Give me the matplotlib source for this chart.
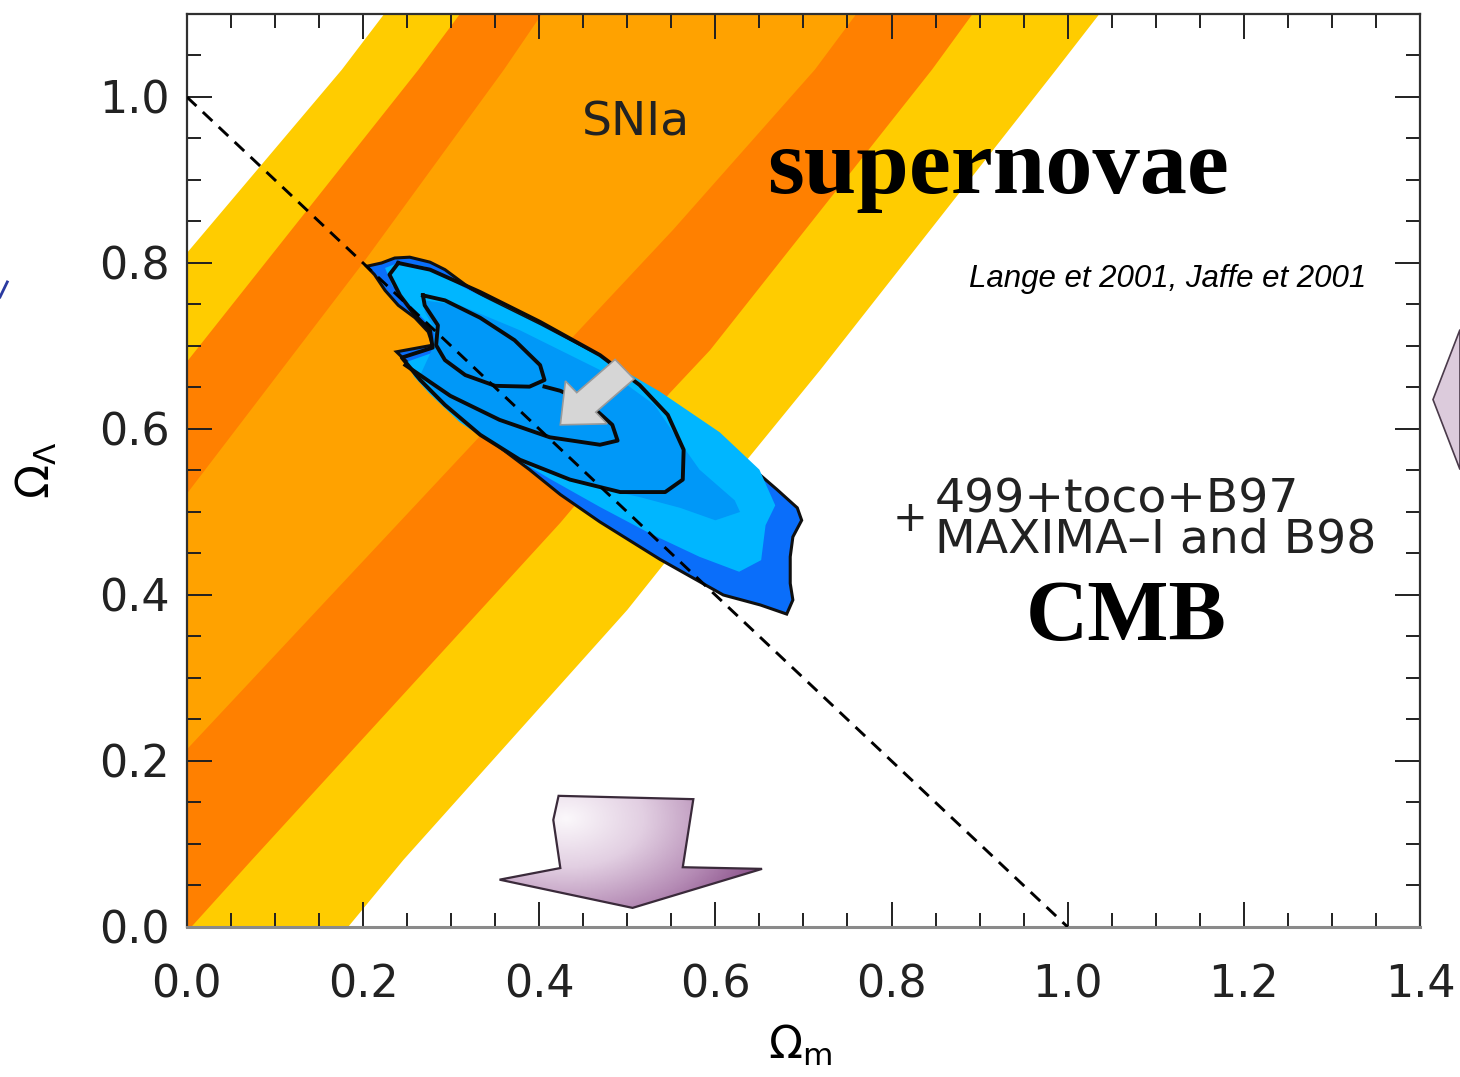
import numpy as np
import matplotlib
matplotlib.use('Agg')
import matplotlib.pyplot as plt
from matplotlib.patches import Polygon, FancyArrow
from matplotlib.lines import Line2D
from matplotlib.colors import LinearSegmentedColormap

# SNIa band edges (Omega_m, Omega_Lambda), run past the frame
b1_x = [-0.663, 0.0, 0.176, 0.224, 0.26]
b1_y = [-0.05, 0.812, 1.033, 1.1, 1.15]
b2_x = [-0.546, 0.0, 0.263, 0.31, 0.345]
b2_y = [-0.05, 0.681, 1.033, 1.1, 1.15]
b3_x = [-0.41, 0.0, 0.2, 0.36, 0.403, 0.44]
b3_y = [-0.05, 0.522, 0.8, 1.033, 1.1, 1.15]
b4_x = [-0.23, 0.0, 0.552, 0.713, 0.76, 0.8]
b4_y = [-0.05, 0.214, 0.84, 1.033, 1.1, 1.15]
b5_x = [-0.04, 0.005, 0.074, 0.424, 0.548, 0.594, 0.846, 0.892, 0.93]
b5_y = [-0.05, 0.0, 0.081, 0.487, 0.643, 0.695, 1.033, 1.1, 1.15]
b6_x = [0.14, 0.183, 0.246, 0.5, 0.636, 0.719, 0.987, 1.036, 1.07]
b6_y = [-0.05, 0.0, 0.081, 0.382, 0.563, 0.671, 1.033, 1.1, 1.15]

# CMB likelihood regions
cmb_out_x = [0.204, 0.221, 0.236, 0.253, 0.276, 0.293, 0.321, 0.355, 0.401, 0.435, 0.469, 0.500,
             0.537, 0.571, 0.605, 0.634, 0.670, 0.693, 0.698, 0.688, 0.685, 0.685, 0.688, 0.681,
             0.651, 0.609, 0.537, 0.469, 0.424, 0.389, 0.344, 0.299, 0.265, 0.238, 0.279, 0.274,
             0.259, 0.240, 0.225, 0.213]
cmb_out_y = [0.796, 0.800, 0.806, 0.807, 0.801, 0.792, 0.770, 0.749, 0.725, 0.707, 0.683, 0.663,
             0.637, 0.617, 0.587, 0.560, 0.527, 0.505, 0.490, 0.470, 0.446, 0.414, 0.394, 0.377,
             0.388, 0.400, 0.443, 0.488, 0.521, 0.551, 0.587, 0.625, 0.665, 0.693, 0.701, 0.717,
             0.734, 0.749, 0.767, 0.786]
cmb_mid_x = [0.225, 0.242, 0.270, 0.321, 0.401, 0.469, 0.537, 0.605, 0.650, 0.668, 0.657, 0.652,
             0.627, 0.582, 0.526, 0.469, 0.412, 0.355, 0.310, 0.276, 0.258, 0.250, 0.282, 0.287,
             0.270, 0.248, 0.233]
cmb_mid_y = [0.794, 0.801, 0.796, 0.767, 0.725, 0.687, 0.645, 0.596, 0.551, 0.508, 0.484, 0.442,
             0.428, 0.446, 0.474, 0.506, 0.540, 0.576, 0.608, 0.642, 0.663, 0.681, 0.693, 0.707,
             0.731, 0.755, 0.773]
cmb_in_x = [0.270, 0.310, 0.378, 0.435, 0.492, 0.531, 0.554, 0.582, 0.622, 0.628, 0.600, 0.560,
            0.514, 0.458, 0.406, 0.355, 0.310, 0.282, 0.265, 0.278, 0.282, 0.270]
cmb_in_y = [0.755, 0.749, 0.719, 0.689, 0.659, 0.629, 0.593, 0.551, 0.514, 0.500, 0.490, 0.505,
            0.518, 0.531, 0.551, 0.577, 0.611, 0.645, 0.665, 0.695, 0.719, 0.741]

# black contour lines
ln_big_x = [0.240, 0.276, 0.333, 0.401, 0.469, 0.514, 0.546, 0.564, 0.563, 0.543, 0.492, 0.435,
            0.378, 0.333, 0.293, 0.265, 0.244, 0.279, 0.276, 0.259, 0.242, 0.230, 0.240]
ln_big_y = [0.800, 0.792, 0.765, 0.729, 0.689, 0.653, 0.617, 0.575, 0.539, 0.524, 0.524, 0.539,
            0.563, 0.593, 0.629, 0.659, 0.686, 0.698, 0.719, 0.737, 0.761, 0.786, 0.800]
ln_in_x = [0.268, 0.293, 0.333, 0.372, 0.401, 0.406, 0.389, 0.350, 0.316, 0.293, 0.283, 0.285,
           0.270, 0.268]
ln_in_y = [0.761, 0.755, 0.734, 0.707, 0.677, 0.659, 0.651, 0.652, 0.665, 0.683, 0.701, 0.725,
           0.749, 0.761]
ln_arr_x = [0.248, 0.299, 0.355, 0.412, 0.469, 0.489, 0.483, 0.458, 0.424, 0.406]
ln_arr_y = [0.677, 0.640, 0.611, 0.590, 0.581, 0.586, 0.605, 0.629, 0.646, 0.651]

# flat universe line
flat_x = [0.0, 1.0]
flat_y = [1.0, 0.0]

# block arrow at the bottom
parr_x = [0.422, 0.575, 0.563, 0.653, 0.506, 0.355, 0.424, 0.416]
parr_y = [0.158, 0.154, 0.072, 0.070, 0.023, 0.057, 0.071, 0.129]

xticks = [0.0, 0.2, 0.4, 0.6, 0.8, 1.0, 1.2, 1.4]
yticks = [0.0, 0.2, 0.4, 0.6, 0.8, 1.0]

fig = plt.figure(figsize=(14.6, 10.77), dpi=100)
ax = fig.add_axes([0.128, 0.1393, 0.8446, 0.8477])

def band(up_x, up_y, lo_x, lo_y, col):
    pts = list(zip(up_x, up_y)) + list(zip(lo_x[::-1], lo_y[::-1]))
    ax.add_patch(Polygon(pts, closed=True, fc=col, ec='none', zorder=1))

band(b1_x, b1_y, b6_x, b6_y, '#FFCC00')
band(b2_x, b2_y, b5_x, b5_y, '#FF8000')
band(b3_x, b3_y, b4_x, b4_y, '#FFA200')

ax.add_patch(Polygon(list(zip(cmb_out_x, cmb_out_y)), closed=True, fc='#0A6EFA', ec='#101010', lw=2.2, zorder=2))
ax.add_patch(Polygon(list(zip(cmb_mid_x, cmb_mid_y)), closed=True, fc='#00B6FF', ec='none', zorder=2))
ax.add_patch(Polygon(list(zip(cmb_in_x, cmb_in_y)), closed=True, fc='#0098F8', ec='none', zorder=2))
ax.plot(ln_big_x, ln_big_y, color='#0a0a0a', lw=2.8, zorder=3)
ax.plot(ln_in_x, ln_in_y, color='#0a0a0a', lw=2.8, zorder=3)
ax.plot(ln_arr_x, ln_arr_y, color='#0a0a0a', lw=2.8, zorder=3)

ax.plot(flat_x, flat_y, color='black', lw=2.1, dashes=(4.5, 3), zorder=4)

# grey arrow onto the blob
ax.add_patch(FancyArrow(0.497, 0.672, -0.073, -0.067, width=0.032, head_width=0.07,
                        head_length=0.04, length_includes_head=True,
                        fc='#d6d6d6', ec='#9a9a9a', lw=1.2, zorder=5))

# purple block arrow with a soft shading
parr = Polygon(list(zip(parr_x, parr_y)), closed=True, fc='none', ec='#3a2a3a', lw=1.6, zorder=6)
ax.add_patch(parr)
gx, gy = np.meshgrid(np.linspace(0.35, 0.66, 200), np.linspace(0.02, 0.16, 100))
gz = np.sqrt(((gx - 0.43) / 0.24) ** 2 + ((gy - 0.13) / 0.16) ** 2)
pcm = LinearSegmentedColormap.from_list('pur', ['#fbf8fb', '#e2cfe2', '#b48ab4', '#7a3a7a'])
im = ax.imshow(gz, extent=[0.35, 0.66, 0.02, 0.16], origin='lower', cmap=pcm,
               aspect='auto', zorder=5, vmin=0, vmax=1.1)
im.set_clip_path(parr)

ax.set_xlim(0, 1.4)
ax.set_ylim(0, 1.1)
ax.set_xticks(xticks)
ax.set_yticks(yticks)
ax.set_xticklabels(['%.1f' % v for v in xticks])
ax.set_yticklabels(['%.1f' % v for v in yticks])
ax.set_xticks(np.arange(0, 1.401, 0.05), minor=True)
ax.set_yticks(np.arange(0, 1.101, 0.05), minor=True)
ax.tick_params(which='both', direction='in', top=True, right=True, width=1.4, color='#202020')
ax.tick_params(which='major', length=18)
ax.tick_params(which='minor', length=10)
ax.tick_params(axis='x', which='major', pad=26, labelsize=32, labelcolor='#222222')
ax.tick_params(axis='y', which='major', pad=12, labelsize=32, labelcolor='#222222')
for s in ax.spines.values():
    s.set_linewidth(1.6)
    s.set_color('#303030')
ax.spines['bottom'].set_color('#8a8a8a')
ax.spines['bottom'].set_linewidth(2.2)

ax.set_xlabel(r'$\Omega_{\rm m}$', fontsize=32)
ax.set_ylabel(r'$\Omega_\Lambda$', fontsize=32)
ax.xaxis.set_label_coords(0.497, -0.105)
ax.yaxis.set_label_coords(-0.104, 0.5)

ax.text(0.51, 0.969, 'SNIa', fontsize=34, ha='center', va='center', color='#222222')
ax.text(0.921, 0.884, 'supernovae', fontsize=68, fontweight='bold',
        family=['Liberation Serif', 'DejaVu Serif'], ha='center', va='baseline')
ax.text(1.114, 0.771, 'Lange et 2001, Jaffe et 2001', fontsize=22.5, style='italic',
        family=['Liberation Sans', 'DejaVu Sans'], ha='center', va='baseline')
ax.text(0.849, 0.451, '499+toco+B97\nMAXIMA–I and B98', fontsize=34, ha='left',
        va='baseline', linespacing=0.85, color='#222222')
ax.text(0.821, 0.492, '+', fontsize=30, ha='center', va='center', color='#222222')
ax.text(1.066, 0.346, 'CMB', fontsize=62, fontweight='bold',
        family=['Liberation Serif', 'DejaVu Serif'], ha='center', va='baseline')

# bits of neighbouring slide graphics cut by the frame
fig.add_artist(Polygon([(1.0, 0.694), (0.9815, 0.629), (1.0, 0.564)], closed=True,
                       transform=fig.transFigure, fc='#dccbdc', ec='#4a3a4a', lw=1.2))
fig.add_artist(Line2D([0.0, 0.005], [0.7242, 0.7382], transform=fig.transFigure,
                      color='#2a3aa0', lw=2))

fig.savefig('out.png', dpi=100)
